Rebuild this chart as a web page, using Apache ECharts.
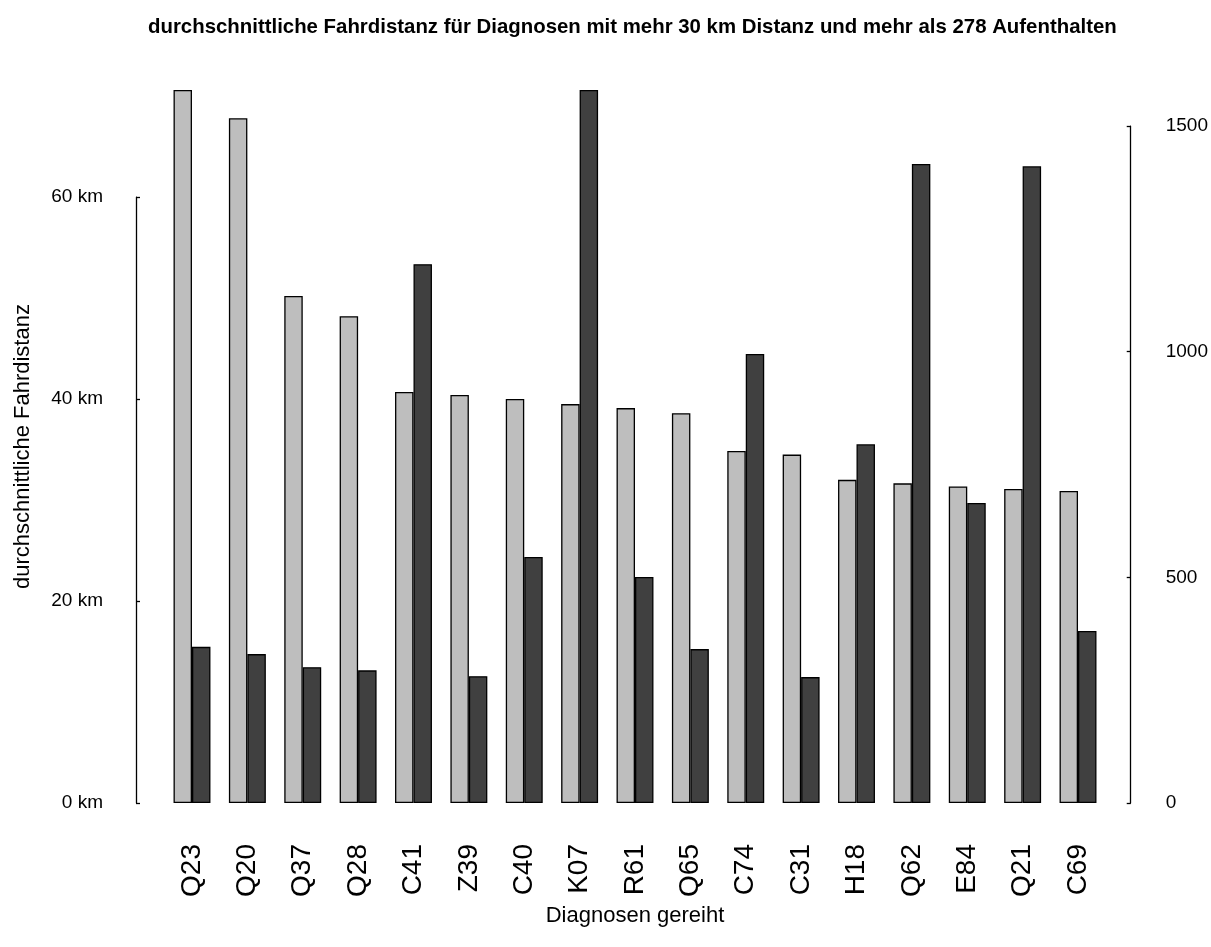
<!DOCTYPE html>
<html>
<head>
<meta charset="utf-8">
<script src="https://cdn.jsdelivr.net/npm/echarts@6/dist/echarts.min.js"></script>
<style>
html,body{margin:0;padding:0;background:#fff;}
#chart{width:1211px;height:947px;}
</style>
</head>
<body>
<div id="chart"></div>
<script>
// ---- data ----
var categories = ['Q23','Q20','Q37','Q28','C41','Z39','C40','K07','R61','Q65','C74','C31','H18','Q62','E84','Q21','C69'];
var distanceKm = [70.6, 67.8, 50.2, 48.2, 40.7, 40.4, 40.0, 39.5, 39.1, 38.6, 34.85, 34.5, 32.0, 31.65, 31.35, 31.1, 30.9];
var stays = [346, 330, 301, 294, 1194, 281, 545, 1580, 501, 341, 995, 279, 795, 1416, 665, 1411, 381];
var leftTicks = [0, 20, 40, 60];
var rightTicks = [0, 500, 1000, 1500];

var titleText = 'durchschnittliche Fahrdistanz für Diagnosen mit mehr 30 km Distanz und mehr als 278 Aufenthalten';
var yName = 'durchschnittliche Fahrdistanz';
var xName = 'Diagnosen gereiht';

// ---- layout ----
var W = 1211, H = 947;
var plotTop = 90, plotBottom = 803;
var gridLeft = 164.3, gridRight = 105.3;
var plotH = plotBottom - plotTop;
var leftMax = Math.max.apply(null, distanceKm);
var rightMax = Math.max.apply(null, stays);
var leftAxisMax = leftTicks[leftTicks.length - 1];
var rightAxisMax = rightTicks[rightTicks.length - 1];
var leftAxisTop = plotBottom - plotH * leftAxisMax / leftMax;
var rightAxisTop = plotBottom - plotH * rightAxisMax / rightMax;

var FONT = '"Liberation Sans", Arial, sans-serif';

var chart = echarts.init(document.getElementById('chart'), null, {renderer: 'canvas'});

var option = {
  backgroundColor: '#ffffff',
  animation: false,
  textStyle: {fontFamily: FONT},
  title: {
    text: titleText,
    left: 143,
    top: 12,
    textStyle: {fontFamily: FONT, fontSize: 20.4, fontWeight: 'bold', color: '#000'}
  },
  grid: [
    {left: gridLeft, right: gridRight, top: plotTop, bottom: H - plotBottom, containLabel: false},
    {left: gridLeft, right: gridRight, top: leftAxisTop, bottom: H - plotBottom, containLabel: false},
    {left: gridLeft, right: gridRight, top: rightAxisTop, bottom: H - plotBottom, containLabel: false}
  ],
  xAxis: [
    {
      gridIndex: 0, type: 'category', data: categories, boundaryGap: true,
      axisLine: {show: false}, axisTick: {show: false},
      axisLabel: {rotate: 90, fontSize: 28, margin: 41, color: '#000', fontFamily: FONT, interval: 0},
      name: xName, nameLocation: 'middle', nameGap: 95,
      nameTextStyle: {fontSize: 22, color: '#000', fontFamily: FONT}
    },
    {gridIndex: 1, type: 'category', data: categories, show: false},
    {gridIndex: 2, type: 'category', data: categories, show: false}
  ],
  yAxis: [
    {
      gridIndex: 0, type: 'value', min: 0, max: leftMax, position: 'left',
      axisLine: {show: false}, axisTick: {show: false}, axisLabel: {show: false}, splitLine: {show: false},
      name: yName, nameLocation: 'middle', nameGap: 130, nameRotate: 90,
      nameTextStyle: {fontSize: 22, color: '#000', fontFamily: FONT}
    },
    {
      gridIndex: 0, type: 'value', min: 0, max: rightMax, position: 'right', show: false
    },
    {
      gridIndex: 1, type: 'value', min: 0, max: leftAxisMax, interval: 20, position: 'left', offset: 28.3,
      axisLine: {show: true, lineStyle: {color: '#000', width: 1.3}},
      axisTick: {show: true, inside: true, length: 4, lineStyle: {color: '#000', width: 1.3}},
      axisLabel: {formatter: '{value} km', fontSize: 19, color: '#000', margin: 33, fontFamily: FONT},
      splitLine: {show: false}
    },
    {
      gridIndex: 2, type: 'value', min: 0, max: rightAxisMax, interval: 500, position: 'right', offset: 37.6,
      axisLine: {show: true, lineStyle: {color: '#000', width: 1.3}},
      axisTick: {show: true, inside: true, length: 4, lineStyle: {color: '#000', width: 1.3}},
      axisLabel: {formatter: function (v) { return String(v); }, fontSize: 19, color: '#000', margin: 35, fontFamily: FONT},
      splitLine: {show: false}
    }
  ],
  series: [
    {
      type: 'bar', name: 'Fahrdistanz', xAxisIndex: 0, yAxisIndex: 0, data: distanceKm,
      barGap: '0%', barCategoryGap: '33.3%',
      itemStyle: {color: '#bebebe', borderColor: '#000', borderWidth: 1.3},
      silent: true
    },
    {
      type: 'bar', name: 'Aufenthalte', xAxisIndex: 0, yAxisIndex: 1, data: stays,
      barGap: '0%', barCategoryGap: '33.3%',
      itemStyle: {color: '#404040', borderColor: '#000', borderWidth: 1.3},
      silent: true
    }
  ]
};
chart.setOption(option);
</script>
</body>
</html>
